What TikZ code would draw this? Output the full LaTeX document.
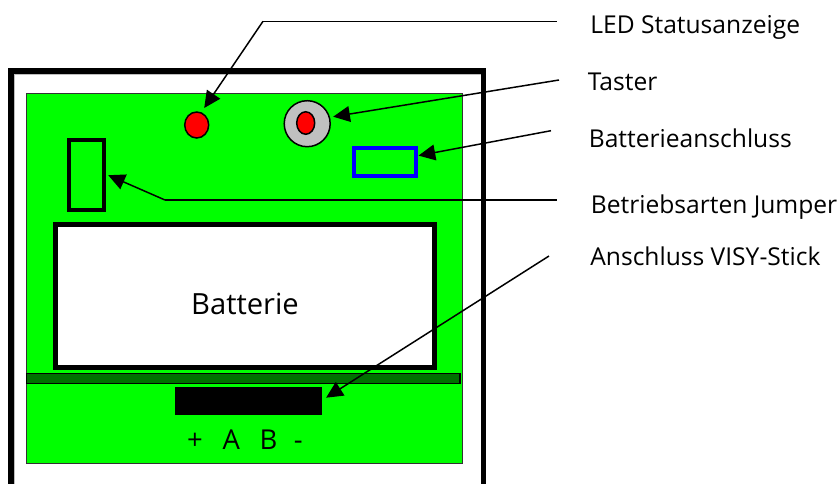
\documentclass[tikz,border=0pt]{standalone}
\usepackage{fontspec}
\setmainfont{Open Sans}
\usetikzlibrary{arrows.meta, shapes.geometric}
\definecolor{boardgreen}{RGB}{0,255,0}
\definecolor{stripgreen}{RGB}{0,112,0}
\definecolor{knobgrey}{RGB}{192,192,192}
\definecolor{framegrey}{RGB}{190,190,190}
\tikzset{
    box/.style={draw, inner sep=0pt, outer sep=0pt},
    led/.style={ellipse, draw, line width=0.85pt, fill=red, inner sep=0pt, outer sep=0pt},
    lab/.style={anchor=base west, inner sep=0pt, font=\fontsize{14}{17}\selectfont},
    leader/.style={line width=0.75pt},
    pointer/.style={line width=0.85pt, -{Triangle[length=9.5pt, width=9pt]}}
}
\begin{document}
\begin{tikzpicture}[x=0.02cm, y=-0.02cm]
    \useasboundingbox (0,0) rectangle (840,484);
    \clip (0,0) rectangle (840,484);

    % Draw housing and board
    \draw[framegrey, line width=0.5pt] (14.4,74.4) rectangle (481,520);
    \draw[black, line width=3.25pt] (11.2,71.2) rectangle (483.5,520);
    \node[box, minimum width=8.72cm, minimum height=7.4cm, draw=black!80, fill=boardgreen, line width=0.7pt] (board) at (244.4,278.3) {};
    \node[box, minimum width=8.67cm, minimum height=0.2cm, fill=stripgreen, line width=0.7pt] (strip) at (243.25,378.3) {};
    \node[box, minimum width=2.95cm, minimum height=0.55cm, draw=none, fill=black] (stick) at (248.35,401) {};

    % Draw battery
    \node[box, minimum width=7.58cm, minimum height=2.86cm, fill=white, line width=3.2pt] (batt) at (245,296) {};
    \node[inner sep=0pt, font=\fontsize{16.6}{20}\selectfont] (battname) at (245,304) {Batterie};
    \node[font=\fontsize{15.6}{19}\selectfont, anchor=base, inner sep=0pt] (pins) at (245,449) {+\hspace{0.72em}A\hspace{0.72em}B\hspace{0.6em}-};

    % Draw parts on the board
    \node[led, minimum width=0.48cm, minimum height=0.52cm] (ledred) at (196.7,125) {};
    \node[circle, draw, line width=0.85pt, fill=knobgrey, minimum size=0.92cm, inner sep=0pt, outer sep=0pt] (knob) at (307.2,123.7) {};
    \node[led, minimum width=0.36cm, minimum height=0.45cm] (knobled) at (305.7,123) {};
    \node[box, minimum width=0.706cm, minimum height=1.39cm, line width=2.3pt] (jumper) at (86.3,175.2) {};
    \node[box, minimum width=1.25cm, minimum height=0.55cm, draw=blue, line width=2.3pt] (conn) at (384.8,161.8) {};

    % Draw labels
    \node[lab] (ledlab) at (590,33) {LED Statusanzeige};
    \node[lab] (tastlab) at (587.5,90.7) {Taster};
    \node[lab] (battlab) at (588.5,147.7) {Batterieanschluss};
    \node[lab] (jumplab) at (590.5,213) {Betriebsarten Jumper};
    \node[lab] (sticklab) at (590,265) {Anschluss VISY-Stick};

    % Draw leaders
    \coordinate (ledbend) at (263,21.3);
    \coordinate (ledend) at (556.7,21.3);
    \coordinate (jumpbend) at (165,200);
    \coordinate (jumpend) at (557,200);
    \coordinate (tastend) at (559,80);
    \coordinate (battend) at (551,130.7);
    \coordinate (stickend) at (549,256);
    \draw[leader] (ledbend) -- (ledend);
    \draw[leader] (jumpbend) -- (jumpend);

    % Draw arrows
    \draw[pointer] (ledbend) -- ([shift={(7.5,-4)}]ledred.north);
    \draw[pointer] (tastend) -- ([shift={(3,-7)}]knob.east);
    \draw[pointer] (battend) -- ([shift={(2.5,-6.2)}]conn.east);
    \draw[pointer] (jumpbend) -- ([shift={(4.3,0)}]jumper.east);
    \draw[pointer] (stickend) -- ([shift={(4,-3.3)}]stick.east);
\end{tikzpicture}
\end{document}
